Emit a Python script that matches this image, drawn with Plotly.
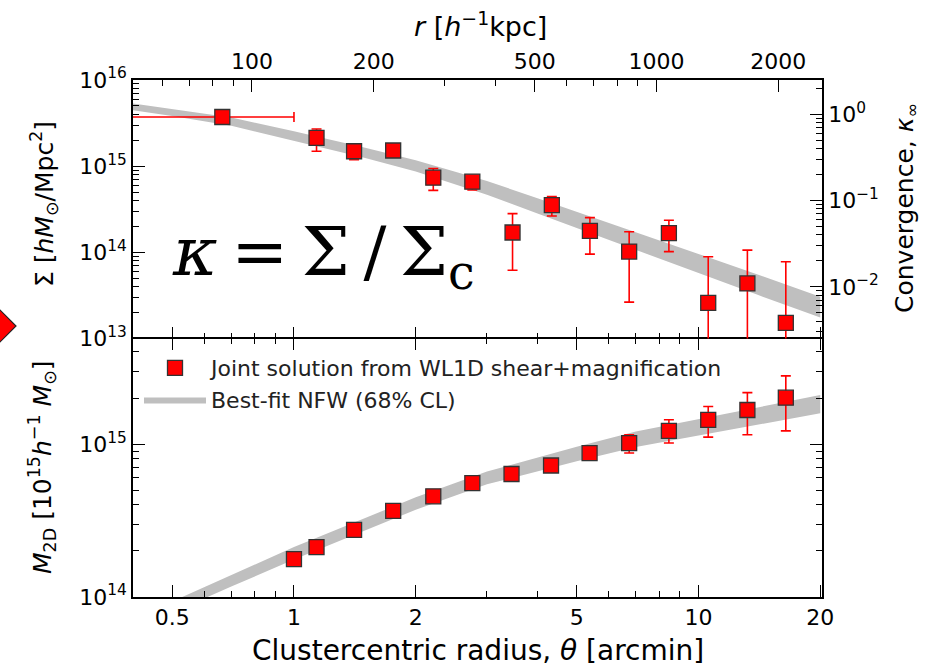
import plotly.graph_objects as go
import math

# ---------------- data ----------------
KPC_PER_ARCMIN = 127.0
SIGMA_CRIT = 3.98e15

theta_sigma = [0.665, 1.137, 1.408, 1.759, 2.21, 2.76, 3.47, 4.34, 5.39, 6.74, 8.45, 10.57, 13.21, 16.44]
sigma = [3.72e15, 2.13e15, 1.49e15, 1.52e15, 7.35e14, 6.6e14, 1.70e14, 3.54e14, 1.77e14, 1.02e14, 1.67e14, 2.59e13, 4.36e13, 1.52e13]
sigma_hi = [3.95e15, 2.70e15, 1.75e15, 1.70e15, 9.4e14, 7.6e14, 2.81e14, 4.43e14, 2.53e14, 1.73e14, 2.36e14, 8.87e13, 1.06e14, 7.76e13]
sigma_lo = [3.50e15, 1.49e15, 1.19e15, 1.36e15, 5.24e14, 5.28e14, 6.2e13, 2.64e14, 9.53e13, 2.64e13, 1.02e14, 1e11, 1e11, 1e11]
theta_first_left = 0.06
theta_first_right = 1.0

theta_m2d = [1.0, 1.137, 1.408, 1.759, 2.21, 2.76, 3.45, 4.32, 5.38, 6.74, 8.45, 10.57, 13.21, 16.44]
m2d = [1.77e14, 2.12e14, 2.75e14, 3.66e14, 4.55e14, 5.56e14, 6.37e14, 7.24e14, 8.73e14, 1.015e15, 1.22e15, 1.44e15, 1.67e15, 2.01e15]
m2d_hi = [1.82e14, 2.18e14, 2.83e14, 3.77e14, 4.69e14, 5.73e14, 6.6e14, 7.5e14, 9.0e14, 1.15e15, 1.44e15, 1.76e15, 2.17e15, 2.79e15]
m2d_lo = [1.72e14, 2.06e14, 2.67e14, 3.55e14, 4.41e14, 5.39e14, 6.15e14, 7.0e14, 8.45e14, 8.73e14, 1.015e15, 1.11e15, 1.15e15, 1.22e15]

theta_band = [0.4, 0.5, 0.7, 1.0, 1.5, 2.0, 3.0, 4.0, 5.0, 7.0, 10.0, 14.0, 20.0]
sigma_band_lo = [4.45e15, 3.81e15, 2.94e15, 1.97e15, 1.245e15, 8.65e14, 4.66e14, 2.82e14, 1.91e14, 1.06e14, 5.73e13, 3.21e13, 1.75e13]
sigma_band_hi = [5.35e15, 4.62e15, 3.67e15, 2.54e15, 1.64e15, 1.17e15, 6.73e14, 4.24e14, 2.96e14, 1.72e14, 9.59e13, 5.52e13, 3.06e13]
m2d_band_lo = [6.11e13, 7.93e13, 1.17e14, 1.76e14, 2.73e14, 3.72e14, 5.45e14, 6.64e14, 7.73e14, 9.57e14, 1.14e15, 1.34e15, 1.59e15]
m2d_band_hi = [7.18e13, 9.35e13, 1.39e14, 2.12e14, 3.28e14, 4.49e14, 6.61e14, 8.17e14, 9.59e14, 1.21e15, 1.46e15, 1.74e15, 2.09e15]

theta_ticks = [0.5, 1, 2, 5, 10, 20]
theta_ticklabels = ["0.5", "1", "2", "5", "10", "20"]
theta_minor = [0.4, 0.6, 0.7, 0.8, 0.9, 3, 4, 6, 7, 8, 9]
kpc_ticks = [100, 200, 500, 1000, 2000]
kpc_ticklabels = ["100", "200", "500", "1000", "2000"]
kpc_minor = [60, 70, 80, 90, 300, 400, 600, 700, 800, 900]
sigma_ticks = [1e13, 1e14, 1e15, 1e16]
sigma_ticklabels = ["10<sup>13</sup>", "10<sup>14</sup>", "10<sup>15</sup>", "10<sup>16</sup>"]
m2d_ticks = [1e14, 1e15]
m2d_ticklabels = ["10<sup>14</sup>", "10<sup>15</sup>"]
kappa_ticks = [1e-2, 1e-1, 1]
kappa_ticklabels = ["10<sup>\u22122</sup>", "10<sup>\u22121</sup>", "10<sup>0</sup>"]

# ---------------- styling ----------------
W, H = 927, 666
L, R, T, B = 133, 105, 80, 69
PW, PH = W - L - R, H - T - B
FONT = "DejaVu Sans"
RED = "#ff0000"
BAND = "#bfbfbf"
TICKF = dict(family=FONT, size=22, color="black")


def px(xp):
    return (xp - L) / PW


def py(yp):
    return (H - B - yp) / PH


def minor_decades(lo, hi):
    vals = []
    for e in range(lo, hi + 1):
        for m in range(2, 10):
            vals.append(m * 10 ** e)
    return vals


X_RANGE = [math.log10(0.4), math.log10(20.2)]

fig = go.Figure()

# bands
fig.add_trace(go.Scatter(x=theta_band, y=sigma_band_lo, xaxis="x2", yaxis="y", mode="lines",
                         line=dict(width=0, color=BAND), showlegend=False, hoverinfo="skip"))
fig.add_trace(go.Scatter(x=theta_band, y=sigma_band_hi, xaxis="x2", yaxis="y", mode="lines",
                         line=dict(width=0, color=BAND), fill="tonexty", fillcolor=BAND,
                         showlegend=False, hoverinfo="skip"))
fig.add_trace(go.Scatter(x=theta_band, y=m2d_band_lo, xaxis="x", yaxis="y2", mode="lines",
                         line=dict(width=0, color=BAND), showlegend=False, hoverinfo="skip"))
fig.add_trace(go.Scatter(x=theta_band, y=m2d_band_hi, xaxis="x", yaxis="y2", mode="lines",
                         line=dict(width=0, color=BAND), fill="tonexty", fillcolor=BAND,
                         name="Best-fit NFW (68% CL)", legendrank=2, hoverinfo="skip"))

marker = dict(symbol="square", size=15, color=RED, line=dict(color="#333333", width=1.3))

# top panel points
err_x_plus = [theta_first_right - theta_sigma[0]] + [0] * (len(theta_sigma) - 1)
err_x_minus = [theta_sigma[0] - theta_first_left] + [0] * (len(theta_sigma) - 1)
fig.add_trace(go.Scatter(
    x=theta_sigma, y=sigma, xaxis="x2", yaxis="y", mode="markers", marker=marker,
    error_y=dict(type="data", symmetric=False,
                 array=[h - v for h, v in zip(sigma_hi, sigma)],
                 arrayminus=[v - l for v, l in zip(sigma, sigma_lo)],
                 color=RED, thickness=1.6, width=5),
    error_x=dict(type="data", symmetric=False, array=err_x_plus, arrayminus=err_x_minus,
                 color=RED, thickness=1.6, width=5),
    showlegend=False))

# bottom panel points
fig.add_trace(go.Scatter(
    x=theta_m2d, y=m2d, xaxis="x", yaxis="y2", mode="markers", marker=marker,
    error_y=dict(type="data", symmetric=False,
                 array=[h - v for h, v in zip(m2d_hi, m2d)],
                 arrayminus=[v - l for v, l in zip(m2d, m2d_lo)],
                 color=RED, thickness=1.6, width=5),
    name="Joint solution from WL1D shear+magnification", legendrank=1))

# dummy trace for secondary axes (kpc on top, convergence on right)
fig.add_trace(go.Scatter(x=[kpc_ticks[0]], y=[kappa_ticks[0]], xaxis="x3", yaxis="y3",
                         mode="markers", marker=dict(size=0.1, opacity=0), showlegend=False,
                         hoverinfo="skip"))

axline = dict(linecolor="black", linewidth=1.6, showgrid=False, zeroline=False, automargin=False,
              ticks="inside", ticklen=12, tickwidth=1.4, tickcolor="black", tickfont=TICKF)
MINOR = dict(ticks="inside", ticklen=6, tickwidth=1.2, tickcolor="black")

fig.update_layout(
    width=W, height=H, margin=dict(l=L, r=R, t=T, b=B),
    paper_bgcolor="white", plot_bgcolor="white",
    font=dict(family=FONT, color="black"),
    xaxis=dict(type="log", range=X_RANGE, anchor="y2", domain=[0, 1], showline=True,
               tickmode="array", tickvals=theta_ticks, ticktext=theta_ticklabels,
               minor=dict(tickvals=theta_minor, **MINOR),
               mirror="allticks", **axline),
    xaxis2=dict(type="log", range=X_RANGE, anchor="y", matches="x", domain=[0, 1], showline=False,
                tickmode="array", tickvals=theta_ticks, showticklabels=False,
                minor=dict(tickvals=theta_minor, **MINOR), **axline),
    xaxis3=dict(type="log", overlaying="x2", side="top", anchor="y", showline=True,
                range=[X_RANGE[0] + math.log10(KPC_PER_ARCMIN), X_RANGE[1] + math.log10(KPC_PER_ARCMIN)],
                tickmode="array", tickvals=kpc_ticks, ticktext=kpc_ticklabels,
                minor=dict(tickvals=kpc_minor, **MINOR), **axline),
    yaxis=dict(type="log", range=[13, 16], domain=[0.5, 1], anchor="x2", showline=True,
               tickmode="array", tickvals=sigma_ticks, ticktext=sigma_ticklabels,
               minor=dict(tickvals=minor_decades(13, 15), **MINOR), **axline),
    yaxis3=dict(type="log", overlaying="y", side="right", anchor="x2", showline=True,
                range=[13 - math.log10(SIGMA_CRIT), 16 - math.log10(SIGMA_CRIT)],
                tickmode="array", tickvals=kappa_ticks, ticktext=kappa_ticklabels,
                minor=dict(tickvals=minor_decades(-3, 0), **MINOR), **axline),
    yaxis2=dict(type="log", range=[14, 15.69], domain=[0, 0.5], anchor="x", showline=True,
                tickmode="array", tickvals=m2d_ticks, ticktext=m2d_ticklabels,
                minor=dict(tickvals=minor_decades(14, 15), **MINOR),
                mirror="allticks", **axline),
    legend=dict(x=px(139), y=py(347), xanchor="left", yanchor="top", bgcolor="rgba(0,0,0,0)",
                traceorder="normal", font=dict(family=FONT, size=22, color="#222222"),
                itemwidth=62),
    showlegend=True,
)

annots = [
    dict(text="Clustercentric radius, <i>\u03b8</i> [arcmin]", x=px(478), y=py(651), size=28),
    dict(text="<i>r</i> [<i>h</i><sup>\u22121</sup>kpc]", x=px(480), y=py(24), size=27),
    dict(text="\u03a3 [<i>hM</i><sub>\u2299</sub>/Mpc<sup>2</sup>]", x=px(44), y=py(204), textangle=-90, size=25),
    dict(text="<i>M</i><sub>2D</sub> [10<sup>15</sup><i>h</i><sup>\u22121</sup> <i>M</i><sub>\u2299</sub>]",
         x=px(42), y=py(467), textangle=-90, size=25),
    dict(text="Convergence, <i>\u03ba</i><sub>\u221e</sub>", x=px(906), y=py(208), textangle=-90, size=25),
]
for a in annots:
    size = a.pop("size")
    fig.add_annotation(xref="paper", yref="paper", showarrow=False, xanchor="center", yanchor="middle",
                       font=dict(family=FONT, size=size, color="black"), **a)

fig.add_annotation(xref="paper", yref="paper", showarrow=False, xanchor="left", yanchor="middle",
                   x=px(170), y=py(256),
                   text="<i>\u03ba</i>\u2009=\u2009\u03a3\u2009/\u2009\u03a3<sub>c</sub>",
                   font=dict(family="DejaVu Serif", size=68, color="black"))

# decorative red diamond clipped at the left edge
cx, cy, d = -3, 326, 19
fig.add_shape(type="path", xref="paper", yref="paper",
              path=f"M {px(cx - d)} {py(cy)} L {px(cx)} {py(cy - d)} L {px(cx + d)} {py(cy)} L {px(cx)} {py(cy + d)} Z",
              fillcolor=RED, line=dict(color="#222222", width=1.2), layer="above")

fig.write_html("out.html", config={"displayModeBar": False},
               post_script="document.body.style.margin='0px';")
